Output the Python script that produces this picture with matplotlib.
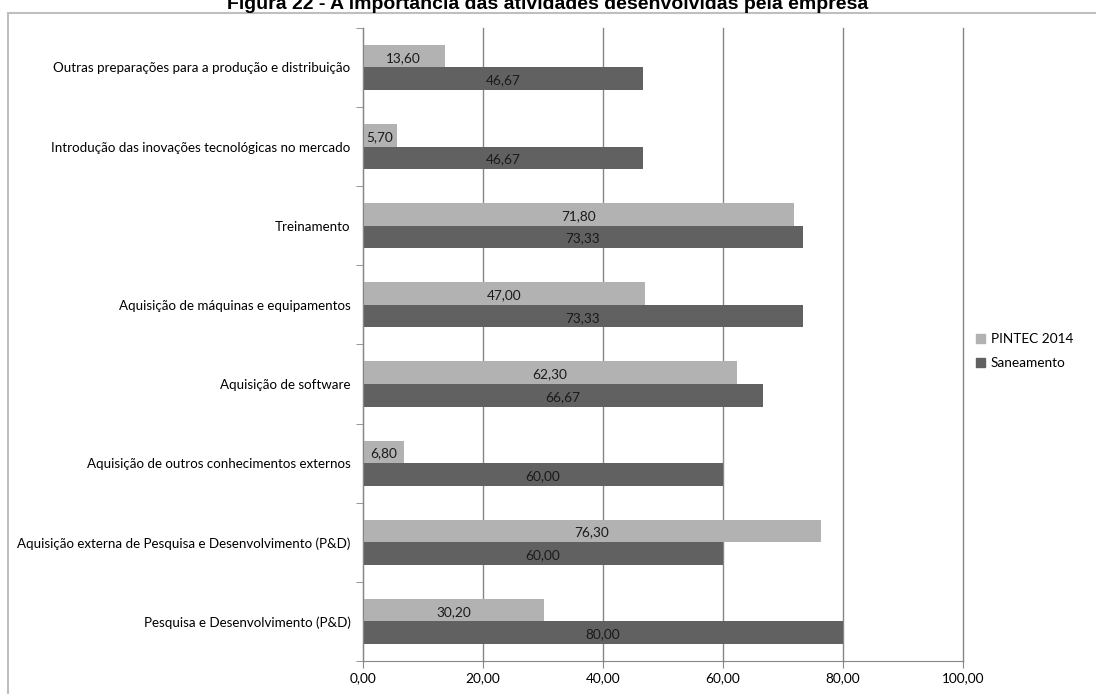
import numpy as np
import matplotlib.pyplot as plt
import matplotlib.patches as mpatches

# dados por atividade (de cima para baixo)
atividades = [
    "Outras preparações para a produção e distribuição",
    "Introdução das inovações tecnológicas no mercado",
    "Treinamento",
    "Aquisição de máquinas e equipamentos",
    "Aquisição de software",
    "Aquisição de outros conhecimentos externos",
    "Aquisição externa de Pesquisa e Desenvolvimento (P&D)",
    "Pesquisa e Desenvolvimento (P&D)",
]
pintec = [13.60, 5.70, 71.80, 47.00, 62.30, 6.80, 76.30, 30.20]
saneamento = [46.67, 46.67, 73.33, 73.33, 66.67, 60.00, 60.00, 80.00]
xticks = [0, 20, 40, 60, 80, 100]

cor_pintec = "#b2b2b2"
cor_san = "#616161"
fonte = "Lato"
tam = 9.8

def fmt(v):
    return ("%.2f" % v).replace(".", ",")

fig = plt.figure(figsize=(10.96, 6.94), dpi=100)
ax = fig.add_axes([0.3312, 0.0476, 0.5474, 0.9122])

y = np.arange(len(atividades))
h = 0.285
b1 = ax.barh(y - h / 2, pintec, height=h, color=cor_pintec, label="PINTEC 2014")
b2 = ax.barh(y + h / 2, saneamento, height=h, color=cor_san, label="Saneamento")

for bars, vals in ((b1, pintec), (b2, saneamento)):
    for r, v in zip(bars, vals):
        ax.text(r.get_x() + r.get_width() / 2, r.get_y() + r.get_height() / 2 + 0.02,
                fmt(v), ha="center", va="center", fontsize=tam, family=fonte,
                color="#1a1a1a")

ax.set_xlim(0, 100)
ax.set_ylim(len(atividades) - 0.5, -0.5)
ax.set_xticks(xticks)
ax.set_xticklabels([fmt(v) for v in xticks], family=fonte, fontsize=tam)
ax.set_yticks(y)
ax.set_yticklabels(atividades, family=fonte, fontsize=9.6)
ax.tick_params(axis="y", length=0, pad=9)
ax.tick_params(axis="x", length=5, color="#868686", pad=3)
# marcas entre categorias
ax.set_yticks(np.arange(len(atividades) + 1) - 0.5, minor=True)
ax.tick_params(axis="y", which="minor", length=5, color="#868686")

ax.grid(axis="x", color="#868686", lw=1)
for gl in ax.xaxis.get_gridlines():
    gl.set_clip_on(False)
ax.set_axisbelow(True)
for s in ("top", "right"):
    ax.spines[s].set_visible(False)
for s in ("left", "bottom"):
    ax.spines[s].set_color("#868686")

leg = fig.legend(handles=[mpatches.Patch(color=cor_pintec, label="PINTEC 2014"),
                          mpatches.Patch(color=cor_san, label="Saneamento")],
                 loc="center left", bbox_to_anchor=(0.879, 0.494), frameon=False,
                 prop={"family": fonte, "size": tam}, handlelength=0.7, handleheight=0.7,
                 handletextpad=0.4, labelspacing=0.9)

# moldura do gráfico
fig.patches.append(mpatches.Rectangle((8 / 1096, -0.1), 1.2, 0.1 + (694 - 13) / 694,
                                      transform=fig.transFigure, fill=False,
                                      ec="#bfbfbf", lw=1.5, clip_on=False))

fig.text(0.5, 0.9875, "Figura 22 - A importância das atividades desenvolvidas pela empresa",
         ha="center", va="baseline", fontsize=14, fontweight="bold",
         family="Liberation Sans")

fig.savefig("out.png", dpi=100)
